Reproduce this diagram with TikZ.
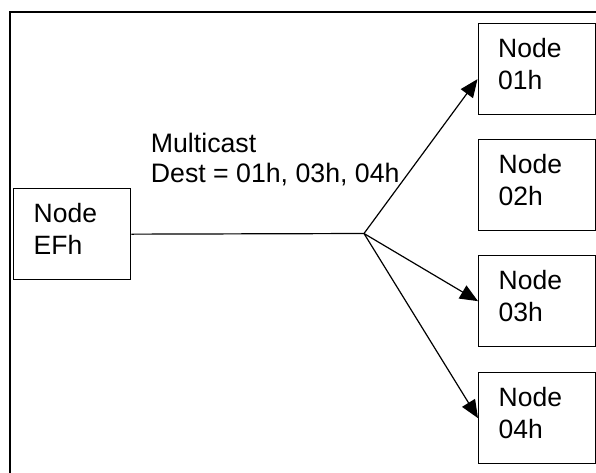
\documentclass[tikz,border=0pt]{standalone}
\usepackage{fontspec}
\setmainfont{Liberation Sans}
\usetikzlibrary{arrows.meta}
\begin{document}
\begin{tikzpicture}[x=1pt,y=-1pt,
  box/.style={draw, line width=1.3pt, minimum width=117pt, minimum height=91pt,
    align=left, text width=77pt, inner xsep=20pt, inner ysep=0pt,
    text height=34pt, text depth=57pt,
    font=\fontsize{26.5}{31.5}\selectfont, anchor=north west},
  conn/.style={line width=1.2pt},
  arr/.style={conn, -{Triangle[length=18pt,width=15pt]}},
  lbl/.style={align=left, inner sep=0pt, anchor=north west, font=\fontsize{26.7}{30}\selectfont}]
\useasboundingbox (0,0) rectangle (596,472);
\draw[line width=1.8pt] (10,480) -- (10,12) -- (600,12);
\node[box] (ef) at (13,188) {Node\\EFh};
\node[box] (n1) at (477.5,23) {Node\\01h};
\node[box] (n2) at (478,139) {Node\\02h};
\node[box] (n3) at (478,255) {Node\\03h};
\node[box] (n4) at (478,372) {Node\\04h};
\coordinate (hub) at (364,233.5);
\node[lbl] (msg) at (150.7,133) {Multicast\\Dest = 01h, 03h, 04h};
\draw[conn] (ef.east) -- (hub);
\draw[arr] (hub) -- ([yshift=-10pt]n1.west);
\draw[arr] (hub) -- (n3.west);
\draw[arr] (hub) -- (n4.west);
\end{tikzpicture}
\end{document}
